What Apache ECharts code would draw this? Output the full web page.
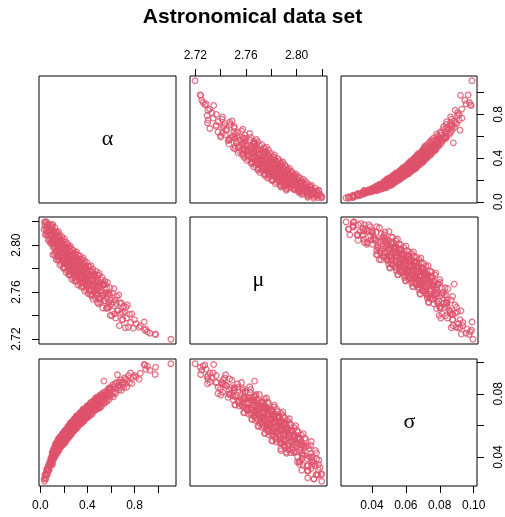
<!DOCTYPE html>
<html>
<head>
<meta charset="utf-8">
<script src="https://cdn.jsdelivr.net/npm/echarts@6/dist/echarts.min.js"></script>
<style>
  html, body { margin: 0; padding: 0; background: #fff; }
  #chart { width: 505px; height: 517px; }
</style>
</head>
<body>
<div id="chart"></div>
<script>
// posterior draws, one sample per index (same index in every array)
const alpha = [
  0.032,0.036,0.039,0.042,0.044,0.047,0.050,0.052,0.055,0.057,0.060,0.062,0.064,0.067,0.069,
  0.071,0.074,0.076,0.078,0.080,0.083,0.085,0.087,0.089,0.091,0.093,0.095,0.096,0.098,0.099,
  0.100,0.102,0.103,0.105,0.106,0.108,0.109,0.111,0.112,0.114,0.115,0.117,0.118,0.120,0.121,
  0.123,0.124,0.126,0.127,0.129,0.130,0.132,0.133,0.135,0.136,0.138,0.139,0.141,0.142,0.144,
  0.145,0.147,0.148,0.150,0.151,0.153,0.154,0.156,0.157,0.159,0.160,0.162,0.163,0.165,0.166,
  0.168,0.169,0.171,0.172,0.174,0.175,0.177,0.178,0.180,0.181,0.183,0.184,0.186,0.187,0.189,
  0.190,0.192,0.193,0.195,0.196,0.198,0.199,0.101,0.149,0.188,
  0.200,0.201,0.202,0.204,0.205,0.206,0.207,0.209,0.210,0.211,0.212,0.214,0.215,0.216,0.217,0.219,
  0.220,0.221,0.222,0.224,0.225,0.226,0.227,0.229,0.230,0.231,0.232,0.234,0.235,0.236,0.237,0.239,
  0.240,0.241,0.242,0.244,0.245,0.246,0.247,0.249,0.250,0.251,0.252,0.254,0.255,0.256,0.257,0.259,
  0.260,0.261,0.262,0.264,0.265,0.266,0.267,0.269,0.270,0.271,0.272,0.274,0.275,0.276,0.277,0.279,
  0.280,0.281,0.282,0.284,0.285,0.286,0.287,0.289,0.290,0.291,0.292,0.294,0.295,0.296,0.297,0.299,
  0.300,0.301,0.303,0.304,0.306,0.307,0.309,0.310,0.311,0.313,0.314,0.316,0.317,0.319,
  0.320,0.321,0.323,0.324,0.326,0.327,0.329,0.330,0.331,0.333,0.334,0.336,0.337,0.339,
  0.340,0.341,0.343,0.344,0.346,0.347,0.349,0.350,0.351,0.353,0.354,0.356,0.357,0.359,
  0.360,0.361,0.363,0.364,0.366,0.367,0.369,0.370,0.371,0.373,0.374,0.376,0.377,0.379,
  0.380,0.381,0.383,0.384,0.386,0.387,0.389,0.390,0.391,0.393,0.394,0.396,0.397,0.399,
  0.400,0.402,0.404,0.406,0.408,0.410,0.412,0.414,0.416,0.418,0.420,0.422,0.424,0.426,0.428,
  0.430,0.432,0.434,0.436,0.438,0.440,0.442,0.444,0.446,0.448,0.450,0.452,0.454,0.456,0.458,
  0.460,0.462,0.464,0.466,0.468,0.470,0.472,0.474,0.476,0.478,0.480,0.482,0.484,0.486,0.488,
  0.490,0.492,0.494,0.496,0.498,0.413,0.437,0.455,0.471,0.493,
  0.500,0.503,0.506,0.510,0.513,0.516,0.520,0.523,0.526,0.530,0.533,0.536,0.540,0.543,0.546,
  0.550,0.553,0.556,0.560,0.563,0.566,0.570,0.573,0.576,0.580,0.583,0.586,0.590,0.593,0.596,
  0.508,0.528,0.548,0.568,0.588,
  0.601,0.606,0.611,0.615,0.620,0.625,0.630,0.634,0.639,0.644,0.649,0.655,0.660,0.665,0.671,
  0.676,0.682,0.688,0.693,0.698,0.540,0.494,
  0.702,0.708,0.715,0.722,0.728,0.733,0.740,0.748,0.757,0.766,0.777,0.790,
  0.800,0.815,0.839,0.849,0.882,0.888,0.896,0.909,0.930,0.975,0.979,1.109
];
const sigma = [
  0.0261,0.0247,0.0287,0.0269,0.0290,0.0262,0.0293,0.0312,0.0289,0.0327,0.0289,0.0314,0.0333,0.0317,0.0348,
  0.0314,0.0347,0.0319,0.0351,0.0369,0.0343,0.0371,0.0361,0.0392,0.0349,0.0389,0.0371,0.0403,0.0369,0.0390,
  0.0426,0.0354,0.0406,0.0380,0.0431,0.0397,0.0445,0.0381,0.0429,0.0417,0.0434,0.0401,0.0460,0.0424,0.0453,
  0.0400,0.0442,0.0470,0.0424,0.0483,0.0411,0.0449,0.0475,0.0441,0.0488,0.0427,0.0474,0.0423,0.0470,0.0497,
  0.0444,0.0486,0.0465,0.0512,0.0435,0.0498,0.0462,0.0514,0.0452,0.0486,0.0520,0.0446,0.0497,0.0470,0.0519,
  0.0483,0.0530,0.0464,0.0511,0.0496,0.0511,0.0476,0.0533,0.0495,0.0524,0.0470,0.0512,0.0538,0.0491,0.0549,
  0.0477,0.0514,0.0539,0.0504,0.0551,0.0488,0.0534,0.0354,0.0479,0.0542,
  0.0498,0.0539,0.0517,0.0564,0.0487,0.0548,0.0512,0.0564,0.0502,0.0534,0.0568,0.0494,0.0545,0.0516,0.0565,0.0529,
  0.0576,0.0509,0.0556,0.0542,0.0557,0.0521,0.0579,0.0541,0.0570,0.0515,0.0557,0.0584,0.0537,0.0594,0.0522,0.0559,
  0.0585,0.0549,0.0596,0.0534,0.0580,0.0528,0.0575,0.0601,0.0548,0.0589,0.0567,0.0614,0.0537,0.0598,0.0562,0.0614,
  0.0551,0.0583,0.0617,0.0543,0.0594,0.0564,0.0613,0.0577,0.0624,0.0557,0.0604,0.0590,0.0605,0.0568,0.0626,0.0588,
  0.0617,0.0562,0.0604,0.0631,0.0584,0.0640,0.0568,0.0605,0.0631,0.0595,0.0642,0.0580,0.0626,0.0573,0.0620,0.0646,
  0.0593,0.0634,0.0612,0.0658,0.0581,0.0642,0.0606,0.0657,0.0595,0.0627,0.0661,0.0586,0.0637,0.0608,
  0.0658,0.0621,0.0668,0.0601,0.0648,0.0633,0.0648,0.0612,0.0670,0.0631,0.0660,0.0605,0.0647,0.0673,
  0.0627,0.0684,0.0612,0.0648,0.0674,0.0638,0.0685,0.0622,0.0668,0.0616,0.0663,0.0688,0.0635,0.0676,
  0.0655,0.0701,0.0624,0.0685,0.0649,0.0700,0.0638,0.0669,0.0703,0.0628,0.0679,0.0650,0.0699,0.0662,
  0.0709,0.0642,0.0689,0.0674,0.0689,0.0653,0.0711,0.0672,0.0701,0.0646,0.0688,0.0714,0.0667,0.0724,
  0.0652,0.0688,0.0715,0.0679,0.0726,0.0663,0.0709,0.0658,0.0705,0.0730,0.0678,0.0719,0.0697,0.0744,0.0667,
  0.0728,0.0692,0.0744,0.0682,0.0714,0.0749,0.0674,0.0726,0.0697,0.0746,0.0710,0.0757,0.0691,0.0738,0.0723,
  0.0739,0.0703,0.0761,0.0722,0.0752,0.0697,0.0739,0.0766,0.0719,0.0776,0.0705,0.0741,0.0767,0.0731,0.0778,
  0.0715,0.0761,0.0710,0.0757,0.0782,0.0673,0.0729,0.0718,0.0774,0.0709,
  0.0773,0.0738,0.0789,0.0729,0.0762,0.0796,0.0723,0.0775,0.0746,0.0796,0.0760,0.0808,0.0742,0.0790,0.0776,
  0.0792,0.0756,0.0815,0.0777,0.0807,0.0752,0.0796,0.0823,0.0777,0.0835,0.0763,0.0800,0.0827,0.0792,0.0840,
  0.0712,0.0782,0.0741,0.0798,0.0833,
  0.0787,0.0829,0.0809,0.0856,0.0781,0.0844,0.0810,0.0862,0.0802,0.0836,0.0871,0.0920,0.0850,0.0823,0.0874,
  0.0838,0.0887,0.0822,0.0870,0.0857,0.0880,0.0760,
  0.0873,0.0839,0.0900,0.0863,0.0894,0.0841,0.0885,0.0914,0.0871,0.0931,0.0864,0.0905,
  0.0915,0.0905,0.0891,0.0930,0.0985,0.0982,0.0955,0.0975,0.0948,0.0922,0.0968,0.0990
];
const mu = [
  2.8136,2.8198,2.8170,2.8088,2.8193,2.8137,2.8200,2.8090,2.8154,2.8114,2.8159,2.8089,2.8185,2.8041,2.8120,
  2.8085,2.8144,2.8173,2.8049,2.8125,2.8082,2.8020,2.8136,2.8043,2.8089,2.8158,2.8028,2.8100,2.8007,2.8083,
  2.8157,2.8023,2.8047,2.8175,2.7918,2.8113,2.8030,2.8119,2.7979,2.8042,2.7984,2.8123,2.8055,2.7920,2.8098,
  2.8008,2.8148,2.7934,2.8048,2.7982,2.8063,2.7948,2.8111,2.7877,2.8010,2.7955,2.8059,2.8110,2.7906,2.8035,
  2.7969,2.7873,2.8071,2.7919,2.8000,2.8117,2.7906,2.8026,2.7875,2.8001,2.8066,2.7934,2.7957,2.8087,2.7831,
  2.8026,2.7944,2.8035,2.7896,2.7959,2.7902,2.8043,2.7974,2.7841,2.8020,2.7930,2.8071,2.7859,2.7974,2.7908,
  2.7990,2.7874,2.8038,2.7804,2.7936,2.7882,2.7985,2.8175,2.7897,2.7982,
  2.7901,2.7806,2.8005,2.7852,2.7933,2.8052,2.7841,2.7961,2.7810,2.7938,2.8003,2.7870,2.7894,2.8025,2.7769,2.7964,
  2.7882,2.7974,2.7835,2.7898,2.7841,2.7983,2.7915,2.7781,2.7960,2.7872,2.8013,2.7800,2.7915,2.7851,2.7933,2.7817,
  2.7981,2.7748,2.7881,2.7826,2.7930,2.7982,2.7778,2.7907,2.7841,2.7746,2.7945,2.7792,2.7873,2.7992,2.7781,2.7901,
  2.7750,2.7878,2.7943,2.7811,2.7835,2.7966,2.7710,2.7906,2.7824,2.7916,2.7777,2.7841,2.7784,2.7926,2.7858,2.7725,
  2.7903,2.7815,2.7956,2.7744,2.7859,2.7795,2.7877,2.7762,2.7927,2.7694,2.7827,2.7773,2.7877,2.7929,2.7725,2.7856,
  2.7790,2.7695,2.7893,2.7742,2.7823,2.7942,2.7730,2.7852,2.7701,2.7828,2.7893,2.7762,2.7786,2.7916,
  2.7661,2.7858,2.7775,2.7867,2.7728,2.7793,2.7735,2.7877,2.7809,2.7676,2.7855,2.7767,2.7908,2.7696,
  2.7811,2.7747,2.7828,2.7714,2.7878,2.7645,2.7777,2.7724,2.7828,2.7879,2.7675,2.7806,2.7740,2.7644,
  2.7843,2.7692,2.7772,2.7891,2.7679,2.7801,2.7649,2.7777,2.7842,2.7710,2.7734,2.7864,2.7608,2.7804,
  2.7722,2.7814,2.7674,2.7739,2.7681,2.7823,2.7754,2.7622,2.7801,2.7712,2.7853,2.7641,2.7756,2.7691,
  2.7773,2.7658,2.7821,2.7587,2.7719,2.7665,2.7768,2.7819,2.7614,2.7744,2.7677,2.7581,2.7779,2.7627,2.7707,
  2.7825,2.7613,2.7734,2.7582,2.7709,2.7773,2.7641,2.7664,2.7795,2.7538,2.7734,2.7651,2.7742,2.7603,2.7667,
  2.7609,2.7750,2.7681,2.7549,2.7727,2.7638,2.7778,2.7566,2.7681,2.7616,2.7697,2.7582,2.7745,2.7512,2.7644,
  2.7590,2.7693,2.7745,2.7540,2.7670,2.7684,2.7566,2.7750,2.7585,2.7647,
  2.7762,2.7549,2.7670,2.7516,2.7642,2.7706,2.7572,2.7594,2.7724,2.7465,2.7660,2.7575,2.7664,2.7523,2.7585,
  2.7525,2.7665,2.7594,2.7459,2.7635,2.7545,2.7682,2.7469,2.7581,2.7514,2.7593,2.7477,2.7637,2.7402,2.7532,
  2.7612,2.7662,2.7693,2.7467,2.7576,
  2.7497,2.7398,2.7593,2.7438,2.7515,2.7630,2.7415,2.7534,2.7379,2.7503,2.7564,2.7440,2.7448,2.7575,2.7314,
  2.7507,2.7420,2.7507,2.7364,2.7425,2.7668,2.7500,
  2.7366,2.7480,2.7432,2.7296,2.7471,2.7380,2.7490,2.7301,2.7410,2.7341,2.7415,2.7293,
  2.7365,2.7330,2.7300,2.7314,2.7345,2.7275,2.7285,2.7262,2.7250,2.7242,2.7239,2.7198
];

const varNames = ["α", "μ", "σ"];
const alphaTicks = [0, 0.2, 0.4, 0.6, 0.8, 1.0];
const muTicks = [2.72, 2.74, 2.76, 2.78, 2.80, 2.82];
const sigmaTicks = [0.04, 0.06, 0.08, 0.10];
// R drops labels that would collide, so only some ticks are labelled
const alphaLabels = [0, 0.4, 0.8];
const muLabels = [2.72, 2.76, 2.80];
const sigmaLabelsX = [0.04, 0.06, 0.08, 0.10];
const sigmaLabelsY = [0.04, 0.08];

const vars = [alpha, mu, sigma];
const ticks = [alphaTicks, muTicks, sigmaTicks];
const xLabels = [alphaLabels, muLabels, sigmaLabelsX];
const yLabels = [alphaLabels, muLabels, sigmaLabelsY];
const digits = [1, 2, 2];

const colLeft = [39, 190, 341];
const rowTop = [76, 217, 359];
const cellW = 137;
const cellH = 127;
const pink = "#DF536B";
const font = "Liberation Sans";

// same 4% padding as R's pairs()
function padRange(arr) {
  const lo = Math.min(...arr);
  const hi = Math.max(...arr);
  const r = hi - lo;
  return [lo - 0.04 * r, hi + 0.04 * r];
}
const ranges = vars.map(padRange);

const grid = [];
const xAxis = [];
const yAxis = [];
const series = [];
const graphic = [];

for (let i = 0; i < 3; i++) {
  for (let j = 0; j < 3; j++) {
    const g = grid.length;
    grid.push({
      left: colLeft[j], top: rowTop[i], width: cellW, height: cellH,
      show: true, borderColor: "#000", borderWidth: 1, backgroundColor: "transparent"
    });
    // pairs() alternates sides: col 2 on top, row 2 on the left
    const hasX = (j === 1 && i === 0) || (j !== 1 && i === 2);
    const hasY = (i === 1 && j === 0) || (i !== 1 && j === 2);
    const fmtX = (v) => v.toFixed(digits[j]);
    const fmtY = (v) => v.toFixed(digits[i]);
    xAxis.push({
      gridIndex: g, type: "value",
      min: ranges[j][0], max: ranges[j][1],
      position: j === 1 ? "top" : "bottom",
      axisLine: { show: false, onZero: false },
      splitLine: { show: false },
      axisTick: { show: hasX, customValues: ticks[j], length: 7, lineStyle: { color: "#000", width: 1 } },
      axisLabel: {
        show: hasX, customValues: xLabels[j], formatter: fmtX,
        margin: 14, fontSize: 12, color: "#000", fontFamily: font
      }
    });
    yAxis.push({
      gridIndex: g, type: "value",
      min: ranges[i][0], max: ranges[i][1],
      position: i === 1 ? "left" : "right",
      axisLine: { show: false, onZero: false },
      splitLine: { show: false },
      axisTick: { show: hasY, customValues: ticks[i], length: 7, lineStyle: { color: "#000", width: 1 } },
      axisLabel: {
        show: hasY, customValues: yLabels[i], formatter: fmtY, rotate: 90,
        margin: 16, fontSize: 12, color: "#000", fontFamily: font
      }
    });
    if (i === j) {
      graphic.push({
        type: "text",
        x: colLeft[j] + cellW / 2, y: rowTop[i] + cellH / 2,
        style: {
          text: varNames[i], fill: "#000", fontSize: 22,
          fontFamily: "Liberation Serif", align: "center", verticalAlign: "middle"
        }
      });
      continue;
    }
    series.push({
      type: "scatter",
      xAxisIndex: g, yAxisIndex: g,
      symbol: "circle", symbolSize: 5.6,
      itemStyle: { color: "transparent", borderColor: pink, borderWidth: 1.3 },
      emphasis: { disabled: true },
      silent: true,
      data: vars[j].map((v, k) => [v, vars[i][k]])
    });
  }
}

const chart = echarts.init(document.getElementById("chart"));
chart.setOption({
  animation: false,
  title: {
    text: "Astronomical data set", left: "center", top: 2,
    textStyle: { fontSize: 21, fontWeight: "bold", color: "#000", fontFamily: font }
  },
  grid, xAxis, yAxis, series, graphic
});
</script>
</body>
</html>
